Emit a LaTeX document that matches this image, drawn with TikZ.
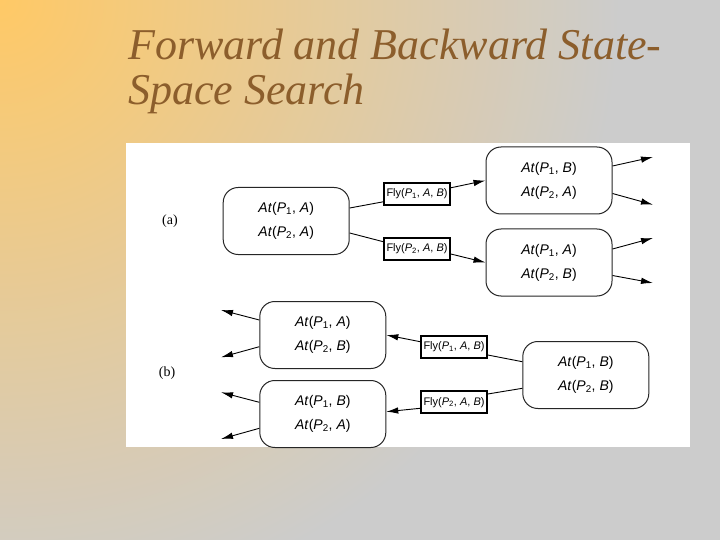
\documentclass[tikz,border=0pt]{standalone}
\usepackage{fontspec}
\setmainfont{Liberation Serif}
\newfontfamily\diagfont{Liberation Sans}
\usetikzlibrary{arrows.meta}
\definecolor{bgorange}{RGB}{255,201,102}
\definecolor{bggray}{RGB}{204,204,204}
\definecolor{titlebrown}{RGB}{140,94,44}
\pgfdeclareradialshading{bgshade}{\pgfpoint{0bp}{0bp}}{color(0bp)=(bgorange); color(25bp)=(bggray); color(50bp)=(bggray)}
\newcommand\AtFact[2]{\textit{At}(\textit{P}\textsubscript{#1}, \textit{#2})}
\newcommand\FlyAct[1]{Fly(\textit{P}\textsubscript{#1}, \textit{A}, \textit{B})}
\tikzset{
  statebox/.style={draw=black!85, line width=1pt, rounded corners=15pt, fill=white,
    minimum width=126pt, minimum height=67pt, inner sep=0pt, align=center,
    font=\diagfont\fontsize{14}{24}\selectfont},
  actbox/.style={draw=black, line width=1.6pt, fill=white, minimum width=66pt,
    minimum height=22pt, inner sep=1pt, font=\diagfont\fontsize{11}{12}\selectfont},
  link/.style={line width=0.9pt, black},
  arr/.style={link, -{Latex[length=12pt,width=6.5pt]}},
  partlabel/.style={font=\fontsize{14}{16}\selectfont, inner sep=0pt},
  titletext/.style={anchor=base west, inner sep=0pt, text=titlebrown,
    font=\fontsize{44}{44}\selectfont\itshape}
}
\begin{document}
\begin{tikzpicture}[x=1pt,y=-1pt]
\useasboundingbox (0,0) rectangle (720,540);
\fill[bggray] (0,0) rectangle (720,540);
\begin{scope}
  \clip (0,0) rectangle (720,540);
  \shade[shading=bgshade] (0,0) circle[radius=620pt];
\end{scope}
\node[titletext] (t1) at (128,60) {Forward and Backward State-};
\node[titletext] (t2) at (128,105) {Space Search};
\fill[white] (126,143) rectangle (690,447);

% (a) forward
\node[partlabel] (la) at (170,221) {(a)};
\node[statebox] (s0) at (286.2,221) {\AtFact{1}{A}\\\AtFact{2}{A}};
\node[actbox] (f1) at (417,193.8) {\FlyAct{1}};
\node[actbox] (f2) at (417,249) {\FlyAct{2}};
\node[statebox] (s1) at (549,180.5) {\AtFact{1}{B}\\\AtFact{2}{A}};
\node[statebox] (s2) at (549,262.5) {\AtFact{1}{A}\\\AtFact{2}{B}};
\coordinate (o1) at (653,157);
\coordinate (o2) at (653,204.7);
\coordinate (o3) at (653,238);
\coordinate (o4) at (653,283);
\draw[link] ([yshift=13pt]s0.east) -- ([yshift=-8pt]f1.west);
\draw[link] ([yshift=-12pt]s0.east) -- ([yshift=7.3pt]f2.west);
\draw[arr] ([yshift=6pt]f1.east) -- (s1.west);
\draw[arr] ([yshift=-5pt]f2.east) -- (s2.west);
\draw[arr] ([yshift=14.5pt]s1.east) -- (o1);
\draw[arr] ([yshift=-13pt]s1.east) -- (o2);
\draw[arr] ([yshift=13.5pt]s2.east) -- (o3);
\draw[arr] ([yshift=-13pt]s2.east) -- (o4);

% (b) backward
\node[partlabel] (lb) at (167,373) {(b)};
\node[statebox] (b1) at (322.8,335) {\AtFact{1}{A}\\\AtFact{2}{B}};
\node[statebox] (b2) at (322.8,414) {\AtFact{1}{B}\\\AtFact{2}{A}};
\node[actbox] (g1) at (454,347) {\FlyAct{1}};
\node[actbox] (g2) at (454,402.2) {\FlyAct{2}};
\node[statebox] (bg) at (585.8,375) {\AtFact{1}{B}\\\AtFact{2}{B}};
\coordinate (i1) at (221,310);
\coordinate (i2) at (221,357.3);
\coordinate (i3) at (221,392.3);
\coordinate (i4) at (221,439);
\draw[link] ([yshift=13.3pt]bg.west) -- ([yshift=-8pt]g1.east);
\draw[link] ([yshift=-13.3pt]bg.west) -- ([yshift=8.2pt]g2.east);
\draw[arr] ([yshift=5.3pt]g1.west) -- (b1.east);
\draw[arr] ([yshift=-6.1pt]g2.west) -- ([yshift=2.3pt]b2.east);
\draw[arr] ([yshift=15pt]b1.west) -- (i1);
\draw[arr] ([yshift=-11.7pt]b1.west) -- (i2);
\draw[arr] ([yshift=11.7pt]b2.west) -- (i3);
\draw[arr] ([yshift=-14.3pt]b2.west) -- (i4);
\end{tikzpicture}
\end{document}
